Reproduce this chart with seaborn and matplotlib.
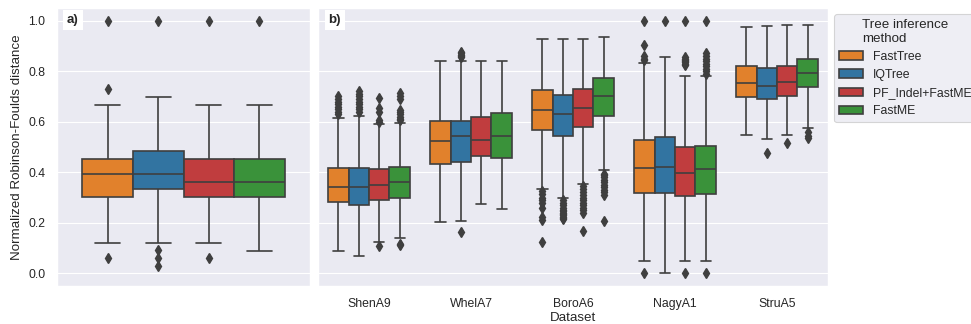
import numpy as np
import pandas as pd
import seaborn as sns
import matplotlib.pyplot as plt

methods = ["FastTree", "IQTree", "PF_Indel+FastME", "FastME"]
datasets = ["ShenA9", "WhelA7", "BoroA6", "NagyA1", "StruA5"]
colors = ["tab:orange", "tab:blue", "tab:red", "tab:green"]

# ---- Panel a) : all datasets pooled, one value per method ----
a_q1 = [0.303, 0.333, 0.303, 0.303]
a_med = [0.393, 0.393, 0.363, 0.363]
a_q3 = [0.453, 0.483, 0.453, 0.453]
a_lo = [0.120, 0.120, 0.120, 0.090]
a_hi = [0.667, 0.696, 0.667, 0.667]
a_out = [[0.061, 0.728, 1.0],
         [0.029, 0.061, 0.091, 1.0],
         [0.061, 1.0],
         [1.0]]

# ---- Panel b) : per dataset, one value per method ----
b_q1 = {"ShenA9": [0.283, 0.270, 0.292, 0.300],
        "WhelA7": [0.434, 0.442, 0.463, 0.458],
        "BoroA6": [0.567, 0.542, 0.578, 0.624],
        "NagyA1": [0.318, 0.318, 0.307, 0.314],
        "StruA5": [0.699, 0.691, 0.701, 0.736]}
b_med = {"ShenA9": [0.343, 0.343, 0.350, 0.361],
         "WhelA7": [0.524, 0.542, 0.529, 0.545],
         "BoroA6": [0.646, 0.630, 0.655, 0.700],
         "NagyA1": [0.416, 0.420, 0.399, 0.414],
         "StruA5": [0.754, 0.742, 0.757, 0.792]}
b_q3 = {"ShenA9": [0.417, 0.416, 0.412, 0.420],
        "WhelA7": [0.604, 0.604, 0.618, 0.636],
        "BoroA6": [0.725, 0.705, 0.729, 0.775],
        "NagyA1": [0.526, 0.538, 0.499, 0.503],
        "StruA5": [0.820, 0.812, 0.822, 0.849]}
b_lo = {"ShenA9": [0.088, 0.068, 0.124, 0.141],
        "WhelA7": [0.204, 0.207, 0.275, 0.254],
        "BoroA6": [0.332, 0.300, 0.355, 0.408],
        "NagyA1": [0.049, 0.000, 0.049, 0.049],
        "StruA5": [0.549, 0.533, 0.546, 0.575]}
b_hi = {"ShenA9": [0.614, 0.621, 0.590, 0.595],
        "WhelA7": [0.841, 0.841, 0.841, 0.841],
        "BoroA6": [0.926, 0.926, 0.926, 0.934],
        "NagyA1": [0.834, 0.855, 0.779, 0.779],
        "StruA5": [0.976, 0.979, 0.984, 0.982]}
b_out = {"ShenA9": [[0.63, 0.64, 0.65, 0.66, 0.67, 0.68, 0.69, 0.70],
                    [0.64, 0.65, 0.66, 0.67, 0.68, 0.69, 0.70, 0.71, 0.72],
                    [0.60, 0.605, 0.64, 0.655, 0.695, 0.110],
                    [0.605, 0.61, 0.62, 0.63, 0.64, 0.645, 0.69, 0.70, 0.715, 0.113, 0.118]],
         "WhelA7": [[],
                    [0.855, 0.86, 0.865, 0.87, 0.875, 0.164],
                    [],
                    []],
         "BoroA6": [[0.325, 0.315, 0.30, 0.29, 0.28, 0.26, 0.225, 0.21, 0.124],
                    [0.29, 0.28, 0.27, 0.26, 0.25, 0.245, 0.24, 0.235, 0.23, 0.225, 0.22, 0.215],
                    [0.345, 0.335, 0.32, 0.31, 0.30, 0.29, 0.28, 0.27, 0.26, 0.25, 0.24, 0.167],
                    [0.395, 0.39, 0.38, 0.37, 0.36, 0.35, 0.34, 0.33, 0.32, 0.31, 0.208]],
         "NagyA1": [[0.845, 0.85, 0.86, 0.905, 1.0, 0.0],
                    [1.0],
                    [0.825, 0.83, 0.835, 0.84, 0.845, 0.85, 0.855, 1.0, 0.0],
                    [0.79, 0.80, 0.81, 0.82, 0.83, 0.84, 0.85, 0.86, 0.87, 1.0, 0.0]],
         "StruA5": [[],
                    [0.476],
                    [0.515],
                    [0.56, 0.545, 0.535]]}


def expand(q1, med, q3, lo, hi, out, block=40):
    """Build a sample whose box-plot statistics are exactly the read values."""
    low = sorted(v for v in out if v < q1)
    high = sorted(v for v in out if v > q3)
    return low + [lo] + [q1] * block + [med] * block + [q3] * block + [hi] + high


rows_a = []
for i, m in enumerate(methods):
    for v in expand(a_q1[i], a_med[i], a_q3[i], a_lo[i], a_hi[i], a_out[i]):
        rows_a.append(("All", m, v))
df_a = pd.DataFrame(rows_a, columns=["Group", "Method", "dist"])

rows_b = []
for d in datasets:
    for i, m in enumerate(methods):
        for v in expand(b_q1[d][i], b_med[d][i], b_q3[d][i], b_lo[d][i], b_hi[d][i], b_out[d][i]):
            rows_b.append((d, m, v))
df_b = pd.DataFrame(rows_b, columns=["Dataset", "Method", "dist"])

sns.set_theme(context="paper", style="darkgrid")
plt.rcParams["font.family"] = ["Liberation Sans", "DejaVu Sans"]

fig = plt.figure(figsize=(9.71, 3.24), dpi=100)
ax1 = fig.add_axes([57 / 971, 38 / 324, 253 / 971, 278 / 324])
ax2 = fig.add_axes([318 / 971, 38 / 324, 510 / 971, 278 / 324], sharey=ax1)

line_c = "#3f3f3f"
flier = dict(marker="d", markerfacecolor=line_c, markeredgecolor=line_c, markersize=5)
common = dict(y="dist", hue="Method", hue_order=methods, palette=colors,
              saturation=0.75, linewidth=1.2, linecolor=line_c, flierprops=flier)

sns.boxplot(data=df_a, x="Group", ax=ax1, legend=False, **common)
sns.boxplot(data=df_b, x="Dataset", order=datasets, ax=ax2, **common)

ax1.set_ylim(-0.05, 1.05)
ax1.set_yticks([0.0, 0.2, 0.4, 0.6, 0.8, 1.0])
ax1.set_ylabel("Normalized Robinson-Foulds distance")
ax1.set_xlabel("")
ax1.set_xticklabels([])
ax2.set_ylabel("")
ax2.set_xlabel("Dataset", labelpad=1.5)
ax2.tick_params(labelleft=False)

for ax, lab, xpos in [(ax1, "a)", 0.063), (ax2, "b)", 0.033)]:
    ax.text(xpos, 0.957, lab, transform=ax.transAxes, ha="center", va="center",
            fontsize=9.6, fontweight="bold",
            bbox=dict(boxstyle="square,pad=0.3", facecolor="white", edgecolor="none"))

sns.move_legend(ax2, "upper left", bbox_to_anchor=(1.0, 1.0),
                title="Tree inference\nmethod", frameon=True)

fig.savefig("out.png", dpi=100)
